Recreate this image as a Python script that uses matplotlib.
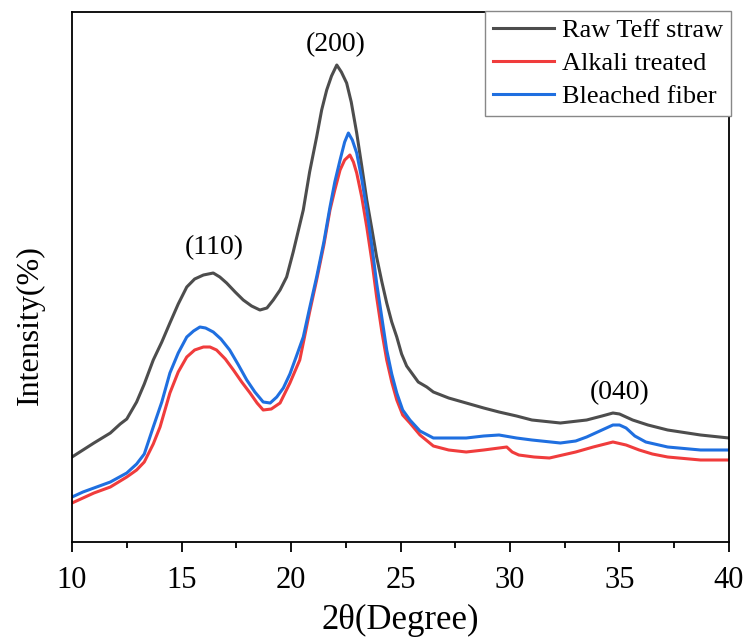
"""XRD patterns of raw Teff straw, alkali treated and bleached fiber."""
import matplotlib
matplotlib.use("Agg")
import matplotlib.pyplot as plt
from matplotlib.ticker import MultipleLocator

plt.rcParams["font.family"] = ["Liberation Serif", "DejaVu Serif"]

# values (arbitrary intensity units)
raw_x = [10.0, 10.5, 11.0, 11.75, 12.2, 12.5, 12.95, 13.3, 13.71, 14.1, 14.47,
         14.85, 15.24, 15.6, 16.0, 16.45, 16.75, 17.06, 17.45, 17.82, 18.2,
         18.58, 18.9, 19.19, 19.5, 19.8, 20.1, 20.56, 20.85, 21.17, 21.4,
         21.63, 21.85, 22.09, 22.3, 22.54, 22.75, 23.0, 23.23, 23.46, 23.7,
         23.91, 24.15, 24.37, 24.6, 24.83, 25.05, 25.28, 25.81, 26.2, 26.5,
         27.2, 28.0, 28.8, 29.5, 30.3, 31.0, 32.3, 33.5, 34.2, 34.7, 35.0,
         35.6, 36.3, 37.2, 38.7, 40.0]
raw_y = [85, 92, 99, 109, 118, 123, 140, 158, 182, 200, 219,
         238, 255, 263, 267, 269, 265, 259, 250, 242, 236,
         232, 234, 242, 252, 265, 290, 332, 370, 405, 432,
         452, 466, 477, 470, 459, 440, 409, 376, 342, 312,
         285, 260, 239, 220, 205, 188, 176, 160, 155, 150,
         144, 139, 134, 130, 126, 122, 119, 122, 126, 129, 128,
         122, 117, 112, 107, 104]

alkali_x = [10.0, 10.5, 11.0, 11.75, 12.5, 12.95, 13.3, 13.71, 14.02, 14.47,
            14.85, 15.24, 15.6, 16.0, 16.3, 16.6, 17.0, 17.37, 17.75, 18.13,
            18.45, 18.73, 19.1, 19.5, 19.95, 20.4, 20.56, 20.85, 21.17, 21.5,
            21.78, 22.0, 22.24, 22.45, 22.69, 22.85, 23.0, 23.23, 23.46, 23.7,
            23.91, 24.15, 24.37, 24.6, 24.83, 25.1, 25.43, 25.89, 26.5, 27.2,
            28.0, 28.8, 29.5, 29.85, 30.1, 30.4, 31.1, 31.8, 32.4, 33.0, 33.8,
            34.7, 35.3, 35.9, 36.5, 37.2, 38.7, 40.0]
alkali_y = [39, 44, 49, 55, 65, 72, 80, 98, 115, 149,
            170, 185, 192, 195, 195, 192, 183, 172, 160, 149,
            139, 132, 133, 139, 159, 182, 199, 230, 262, 297,
            332, 352, 372, 382, 387, 380, 369, 345, 315, 280,
            245, 210, 182, 160, 142, 127, 119, 107, 96, 92,
            90, 92, 94, 95, 90, 87, 85, 84, 87, 90, 95,
            100, 97, 92, 88, 85, 82, 82]

bleached_x = [10.0, 10.5, 11.0, 11.75, 12.5, 12.95, 13.3, 13.71, 14.1, 14.47,
              14.85, 15.24, 15.55, 15.84, 16.1, 16.45, 16.8, 17.2, 17.6, 17.98,
              18.35, 18.73, 19.05, 19.35, 19.65, 19.95, 20.25, 20.56, 20.85,
              21.17, 21.5, 21.78, 22.0, 22.24, 22.45, 22.62, 22.8, 23.0, 23.23,
              23.46, 23.7, 23.91, 24.15, 24.37, 24.6, 24.83, 25.1, 25.43, 25.89,
              26.5, 27.2, 28.0, 28.8, 29.5, 30.3, 31.0, 32.3, 33.0, 33.5, 34.2,
              34.7, 35.0, 35.3, 35.7, 36.2, 37.2, 38.7, 40.0]
bleached_y = [45, 50, 54, 60, 69, 78, 88, 115, 140, 169,
              189, 205, 211, 215, 214, 210, 203, 192, 177, 162,
              150, 140, 139, 145, 154, 168, 186, 205, 234,
              265, 300, 335, 360, 382, 400, 409, 402, 389, 363,
              332, 295, 259, 224, 192, 168, 149, 132, 122, 111,
              104, 104, 104, 106, 107, 104, 102, 99, 101, 105, 112,
              117, 117, 114, 106, 100, 95, 92, 92]

peak_labels = ["(110)", "(200)", "(040)"]
peak_x = [16.5, 22.05, 35.0]
peak_y = [294, 497, 149]

fig = plt.figure(figsize=(7.47, 6.39), dpi=100)
ax = fig.add_axes([0.0964, 0.1518, 0.8795, 0.8294])

ax.plot(raw_x, raw_y, color="#4d4d4d", lw=2.2, label="Raw Teff straw")
ax.plot(alkali_x, alkali_y, color="#f03c3c", lw=2.2, label="Alkali treated")
ax.plot(bleached_x, bleached_y, color="#1f6fe0", lw=2.2, label="Bleached fiber")

for lab, px, py in zip(peak_labels, peak_x, peak_y):
    ax.text(px, py, lab, fontsize=20, ha="center", va="center")

ax.set_xlim(10, 40)
ax.set_ylim(0, 530)
ax.set_yticks([])
ax.xaxis.set_major_locator(MultipleLocator(5))
ax.xaxis.set_minor_locator(MultipleLocator(2.5))
ax.tick_params(axis="x", which="major", direction="out", length=7, width=1.3,
               labelsize=22, pad=10)
ax.tick_params(axis="x", which="minor", direction="out", length=4, width=1.3)
for sp in ax.spines.values():
    sp.set_linewidth(1.3)

ax.set_xlabel("2θ(Degree)", fontsize=25, labelpad=7)
ax.set_ylabel("Intensity(%)", fontsize=23)
ax.yaxis.set_label_coords(-0.042, 0.41)

leg = ax.legend(loc="upper right", bbox_to_anchor=(1.003, 1.002),
                borderaxespad=0, fontsize=19, fancybox=False, framealpha=1,
                edgecolor="#888888", handlelength=2.3, handletextpad=0.3,
                labelspacing=0.35, borderpad=0.3)
leg.get_frame().set_linewidth(1.0)

fig.savefig("out.png", dpi=100)
